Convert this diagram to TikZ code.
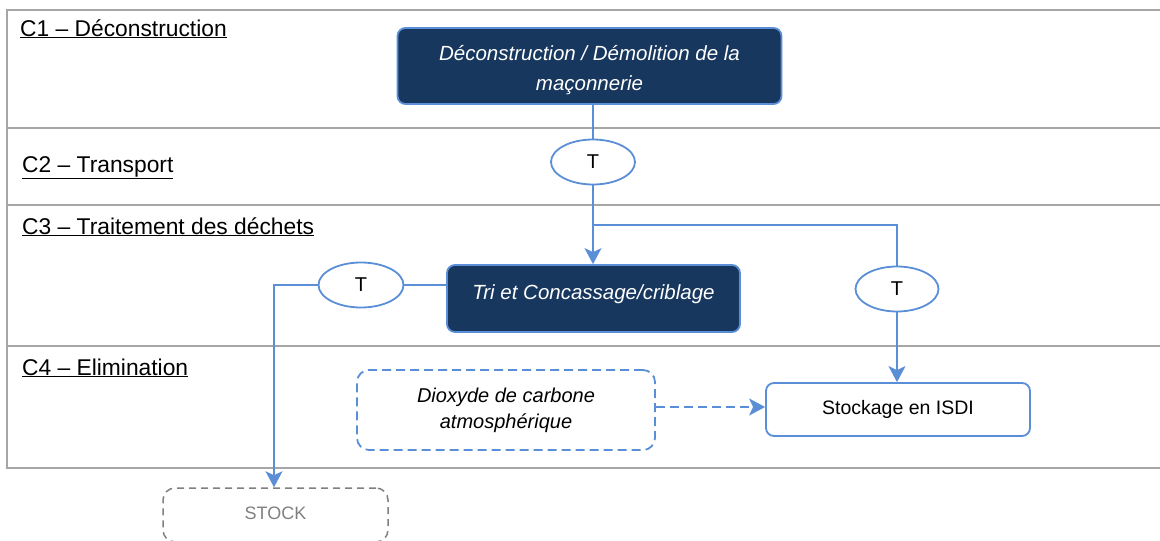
\documentclass[tikz,border=0pt]{standalone}
\usepackage{fontspec}
\setmainfont{Liberation Sans}
\usetikzlibrary{shapes.geometric,arrows.meta}
\definecolor{navy}{HTML}{17375E}
\definecolor{lblue}{HTML}{5A8ED6}
\definecolor{tgray}{HTML}{A6A6A6}
\definecolor{sgray}{HTML}{808080}
\tikzset{
  darkbox/.style={draw=lblue, line width=1.8pt, fill=navy, rounded corners=8pt, text=white, align=center, inner sep=0pt},
  whitebox/.style={draw=lblue, line width=1.8pt, fill=white, rounded corners=8pt, align=center, inner sep=0pt},
  dashbox/.style={draw=lblue, line width=1.8pt, dash pattern=on 9pt off 5pt, rounded corners=12pt, align=center, inner sep=0pt},
  stockbox/.style={draw=sgray, line width=1.5pt, dash pattern=on 7pt off 5pt, rounded corners=12pt, align=center, inner sep=0pt, text=sgray},
  tell/.style={ellipse, draw=lblue, line width=1.8pt, fill=white, inner sep=0pt, minimum width=84pt, minimum height=45pt, font=\fontsize{20}{24}\selectfont},
  conn/.style={draw=lblue, line width=1.8pt},
  arr/.style={conn, -{Stealth[length=16pt,width=17pt,inset=4pt]}},
  tline/.style={draw=tgray, line width=2pt},
  lanelabel/.style={anchor=base west, inner sep=0pt, font=\fontsize{22.8}{27}\selectfont}
}
\begin{document}
\begin{tikzpicture}[x=1pt,y=-1pt]
\useasboundingbox (0,0) rectangle (1160,541);
% table frame
\draw[tline] (1160,10) -- (7,10) -- (7,468) -- (1160,468);
\draw[tline] (7,128) -- (1160,128);
\draw[tline] (7,205) -- (1160,205);
\draw[tline] (7,346) -- (1160,346);
% lane labels
\node[lanelabel] (l1) at (20,36) {\underline{C1 – Déconstruction}};
\node[lanelabel] (l2) at (22,172) {\underline{C2 – Transport}};
\node[lanelabel] (l3) at (22,234) {\underline{C3 – Traitement des déchets}};
\node[lanelabel] (l4) at (22,375) {\underline{C4 – Elimination}};
% nodes
\node[darkbox, minimum width=384pt, minimum height=76pt] (b1) at (589.5,66) {\raisebox{-4pt}[\height][\depth]{\parbox{380pt}{\centering\fontsize{20.5}{30}\itshape\selectfont Déconstruction / Démolition de la\\maçonnerie}}};
\node[tell] (t1) at (593,162) {T};
\node[darkbox, minimum width=293pt, minimum height=67pt, font=\fontsize{20.5}{24}\itshape\selectfont] (tri) at (593.5,298.5) {\raisebox{13pt}{Tri et Concassage/criblage}};
\node[tell, minimum width=85pt] (t2) at (361,285) {T};
\node[tell, minimum width=83pt] (t3) at (897,289) {T};
\node[dashbox, minimum width=298pt, minimum height=80pt, font=\fontsize{20}{26}\itshape\selectfont] (dio) at (506,410) {Dioxyde de carbone\\atmosphérique};
\node[whitebox, minimum width=264pt, minimum height=53pt, font=\fontsize{19.5}{24}\selectfont] (stk) at (898,409.5) {\raisebox{3pt}{Stockage en ISDI}};
\node[stockbox, minimum width=225pt, minimum height=54pt, font=\fontsize{18}{22}\selectfont] (stock) at (275.5,515) {\raisebox{3pt}{STOCK}};
% connectors
\coordinate (j) at (593,225);
\draw[conn] (t1.north) -- (t1.north |- b1.south);
\draw[conn] (t1.south) -- (j) -| (t3.north);
\draw[arr] (j) -- (j |- tri.north);
\draw[arr] (t3.south) -- (t3.south |- stk.north);
\draw[conn] (t2.east) -- (t2.east -| tri.west);
\draw[arr] (t2.west) -| ([xshift=-1.5pt]stock.north);
\draw[arr, dash pattern=on 9pt off 5pt] ([yshift=3pt]dio.east) -- ([yshift=3pt]dio.east -| stk.west);
\end{tikzpicture}
\end{document}
